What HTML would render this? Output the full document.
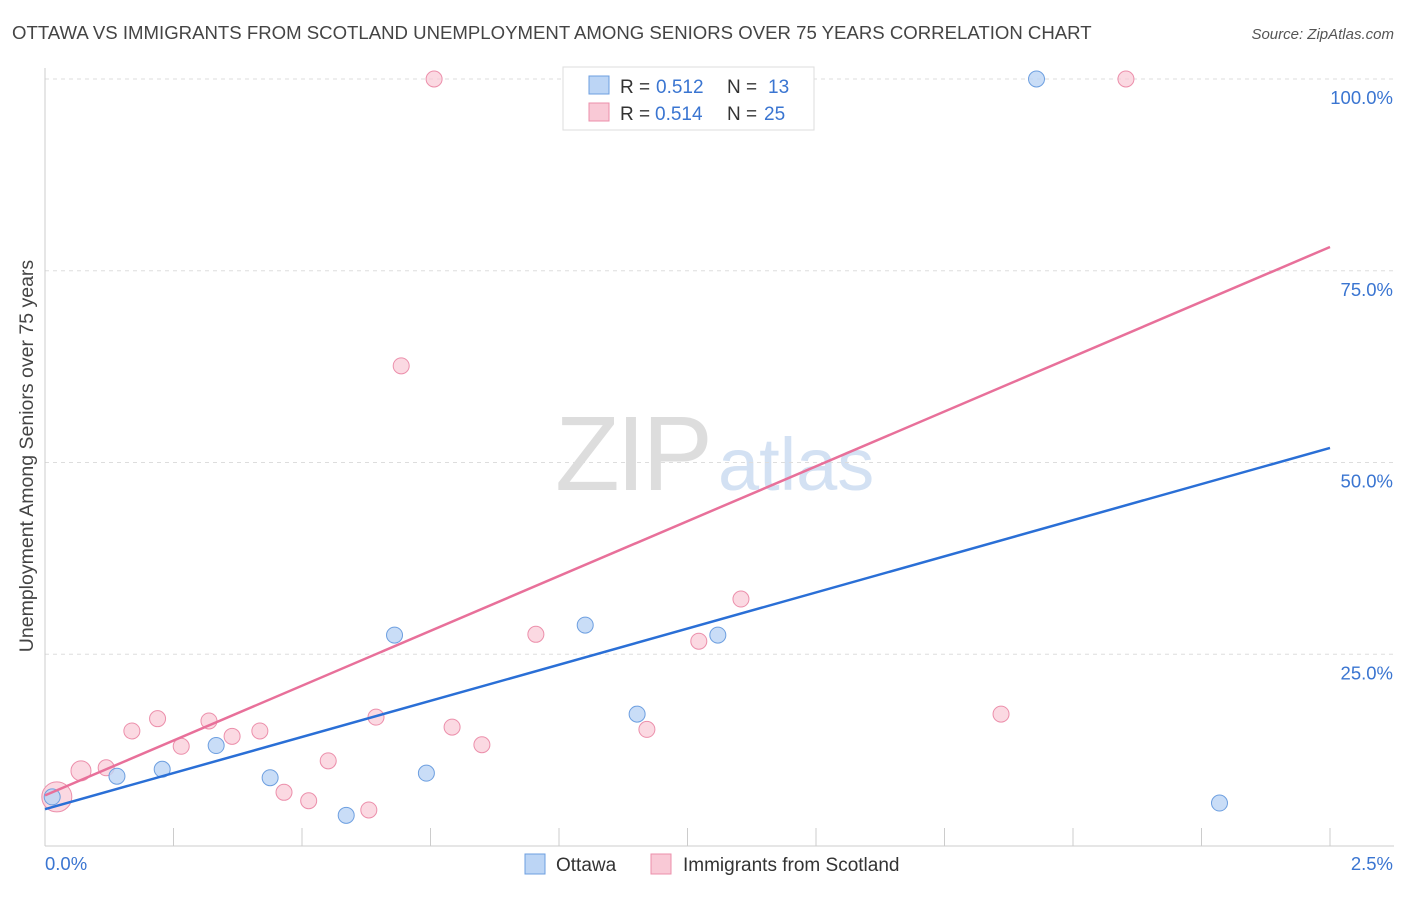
<!DOCTYPE html>
<html><head><meta charset="utf-8"><style>
body{margin:0;background:#fff;font-family:"Liberation Sans",sans-serif}
svg text{font-family:"Liberation Sans",sans-serif}
</style></head><body>
<svg id="c" width="1406" height="892">
<text x="12" y="39" font-size="18.6" fill="#444">OTTAWA VS IMMIGRANTS FROM SCOTLAND UNEMPLOYMENT AMONG SENIORS OVER 75 YEARS CORRELATION CHART</text>
<text x="1394" y="39" font-size="15" fill="#555" text-anchor="end" font-style="italic">Source: ZipAtlas.com</text>
<text x="713" y="490" font-size="106" fill="#ddd" text-anchor="end" font-family="Liberation Serif" textLength="158">ZIP</text>
<text x="718" y="490" font-size="74" fill="#d3e1f3">atlas</text>
<text transform="translate(33,456) rotate(-90)" font-size="19.5" fill="#444" text-anchor="middle">Unemployment Among Seniors over 75 years</text>
<g id="grid"></g><g id="marks"></g>
<g>
<rect x="563" y="67" width="251" height="63" fill="#fff" stroke="#ddd"/>
<rect x="589" y="76" width="20" height="18" fill="#bcd5f5" stroke="#6d9fe0"/>
<rect x="589" y="103" width="20" height="18" fill="#f9c9d6" stroke="#ec8fab"/>
<text x="620" y="93" font-size="19" fill="#333">R =</text><text x="656" y="93" font-size="19" fill="#3a75d1">0.512</text>
<text x="727" y="93" font-size="19" fill="#333">N =</text><text x="768" y="93" font-size="19" fill="#3a75d1">13</text>
<text x="620" y="120" font-size="19" fill="#333">R =</text><text x="655" y="120" font-size="19" fill="#3a75d1">0.514</text>
<text x="727" y="120" font-size="19" fill="#333">N =</text><text x="764" y="120" font-size="19" fill="#3a75d1">25</text>
</g>
<g>
<rect x="525" y="854" width="20" height="20" fill="#bcd5f5" stroke="#6d9fe0"/>
<text x="556" y="871" font-size="19" fill="#333">Ottawa</text>
<rect x="651" y="854" width="20" height="20" fill="#f9c9d6" stroke="#ec8fab"/>
<text x="683" y="871" font-size="19" fill="#333">Immigrants from Scotland</text>
</g>
</svg>
<script>
const xTicks=[0,2.5];
const yTicks=[25,50,75,100];
const ottX=[0.014,0.14,0.228,0.333,0.438,0.586,0.68,0.742,1.051,1.152,1.309,1.929,2.285];
const ottY=[6.4,9.1,10.0,13.1,8.9,4.0,27.5,9.5,28.8,17.2,27.5,100,5.6];
const scoX=[0.023,0.07,0.119,0.169,0.219,0.265,0.319,0.364,0.418,0.465,0.513,0.551,0.63,0.644,0.693,0.757,0.792,0.85,0.955,1.123,1.171,1.272,1.354,1.86,2.103];
const scoY=[6.4,9.8,10.2,15.0,16.6,13.0,16.3,14.3,15.0,7.0,5.9,11.1,4.7,16.8,62.6,100,15.5,13.2,27.6,100,15.2,26.7,32.2,17.2,100];
const ottLine=[4.8,51.9], scoLine=[6.6,78.1];
const NS='http://www.w3.org/2000/svg';
const X=v=>45+v/2.5*1285, Y=v=>846-v/100*767;
function el(t,a,p){const e=document.createElementNS(NS,t);for(const k in a)e.setAttribute(k,a[k]);p.appendChild(e);return e;}
const g=document.getElementById('grid'),m=document.getElementById('marks');
yTicks.forEach(t=>{const l=el('line',{x1:45,x2:1394,y1:Y(t),y2:Y(t),stroke:'#ddd','stroke-dasharray':'4 4'},g);


const tx=el('text',{x:1393,y:Y(t)+25,'font-size':18.5,fill:'#3a75d1','text-anchor':'end'},g);tx.textContent=t.toFixed(1)+'%';

});
el('line',{x1:45,x2:45,y1:68,y2:846,stroke:'#ccc'},g);
el('line',{x1:45,x2:1394,y1:846,y2:846,stroke:'#ccc'},g);
for(let i=1;i<=10;i++){const l=el('line',{x1:X(i*0.25),x2:X(i*0.25),y1:828,y2:846,stroke:'#ccc'},g);

}
xTicks.forEach((t,i)=>{const tx=el('text',{x:i?1393:45,y:870,'font-size':18.5,fill:'#3a75d1','text-anchor':i?'end':'start'},g);tx.textContent=t.toFixed(1)+'%';

});
scoX.forEach((x,i)=>{const c=el('circle',{cx:X(x),cy:Y(scoY[i]),r:i==0?15:(i==1?10:8),fill:'#f9c9d6','fill-opacity':0.7,stroke:'#ec8fab'},m);

});
ottX.forEach((x,i)=>{const c=el('circle',{cx:X(x),cy:Y(ottY[i]),r:8,fill:'#bcd5f5','fill-opacity':0.8,stroke:'#6d9fe0'},m);

});
const l1=el('line',{x1:X(0),x2:X(2.5),y1:Y(ottLine[0]),y2:Y(ottLine[1]),stroke:'#2a6fd6','stroke-width':2.5},m);


const l2=el('line',{x1:X(0),x2:X(2.5),y1:Y(scoLine[0]),y2:Y(scoLine[1]),stroke:'#e8709a','stroke-width':2.5},m);


</script>
</body></html>
